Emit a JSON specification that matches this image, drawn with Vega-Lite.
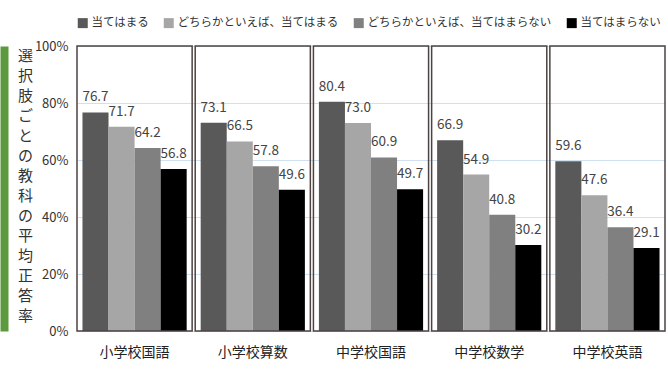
{
  "$schema": "https://vega.github.io/schema/vega-lite/v6.json",
  "autosize": {"type": "none"},
  "padding": {"left": 77, "top": 46, "right": 3, "bottom": 41},
  "width": 588,
  "height": 285,
  "background": "white",
  "config": {"font": "Noto Sans CJK JP", "view": {"stroke": null}},
  "data": {"values": [
    {"subject": "小学校国語", "choice": "当てはまる", "rate": 76.7},
    {"subject": "小学校国語", "choice": "どちらかといえば、当てはまる", "rate": 71.7},
    {"subject": "小学校国語", "choice": "どちらかといえば、当てはまらない", "rate": 64.2},
    {"subject": "小学校国語", "choice": "当てはまらない", "rate": 56.8},
    {"subject": "小学校算数", "choice": "当てはまる", "rate": 73.1},
    {"subject": "小学校算数", "choice": "どちらかといえば、当てはまる", "rate": 66.5},
    {"subject": "小学校算数", "choice": "どちらかといえば、当てはまらない", "rate": 57.8},
    {"subject": "小学校算数", "choice": "当てはまらない", "rate": 49.6},
    {"subject": "中学校国語", "choice": "当てはまる", "rate": 80.4},
    {"subject": "中学校国語", "choice": "どちらかといえば、当てはまる", "rate": 73.0},
    {"subject": "中学校国語", "choice": "どちらかといえば、当てはまらない", "rate": 60.9},
    {"subject": "中学校国語", "choice": "当てはまらない", "rate": 49.7},
    {"subject": "中学校数学", "choice": "当てはまる", "rate": 66.9},
    {"subject": "中学校数学", "choice": "どちらかといえば、当てはまる", "rate": 54.9},
    {"subject": "中学校数学", "choice": "どちらかといえば、当てはまらない", "rate": 40.8},
    {"subject": "中学校数学", "choice": "当てはまらない", "rate": 30.2},
    {"subject": "中学校英語", "choice": "当てはまる", "rate": 59.6},
    {"subject": "中学校英語", "choice": "どちらかといえば、当てはまる", "rate": 47.6},
    {"subject": "中学校英語", "choice": "どちらかといえば、当てはまらない", "rate": 36.4},
    {"subject": "中学校英語", "choice": "当てはまらない", "rate": 29.1}
  ]},
  "encoding": {
    "x": {
      "field": "subject", "type": "nominal",
      "sort": ["小学校国語", "小学校算数", "中学校国語", "中学校数学", "中学校英語"],
      "scale": {"paddingInner": 0.026, "paddingOuter": 0},
      "axis": {"title": null, "ticks": false, "domain": false, "labelAngle": 0, "labelFontSize": 14, "labelColor": "#222", "labelPadding": 14, "labelDx": -6}
    }
  },
  "layer": [
    {
      "mark": {"type": "bar"},
      "encoding": {
        "xOffset": {"field": "choice", "type": "nominal",
          "sort": ["当てはまる", "どちらかといえば、当てはまる", "どちらかといえば、当てはまらない", "当てはまらない"],
          "scale": {"paddingOuter": 0.21, "paddingInner": 0}},
        "y": {"field": "rate", "type": "quantitative", "scale": {"domain": [0, 100]},
          "axis": {"values": [0, 20, 40, 60, 80, 100], "labelExpr": "datum.value + '%'", "grid": true, "gridColor": "#cfe0f0", "ticks": false,
            "domain": true, "domainColor": "#5b9a3d", "domainWidth": 8, "offset": 73,
            "labelFontSize": 13, "labelColor": "#333", "labelPadding": -64, "labelAlign": "right",
            "title": ["選", "択", "肢", "ご", "と", "の", "教", "科", "の", "平", "均", "正", "答", "率"],
            "titleAngle": 0, "titleAlign": "center", "titleBaseline": "top", "titleX": 21, "titleY": 2,
            "titleFontSize": 15, "titleLineHeight": 20, "titleColor": "#333", "titleFontWeight": "normal"}},
        "color": {"field": "choice", "type": "nominal",
          "sort": ["当てはまる", "どちらかといえば、当てはまる", "どちらかといえば、当てはまらない", "当てはまらない"],
          "scale": {"range": ["#595959", "#a6a6a6", "#808080", "#000000"]},
          "legend": {"orient": "top", "title": null, "labelFontSize": 11.5, "labelColor": "#333", "labelLimit": 300, "symbolType": "square", "symbolSize": 100, "symbolStrokeWidth": 0, "columnPadding": 14, "labelOffset": 3, "offset": 17, "padding": 0}}
      }
    },
    {
      "mark": {"type": "text", "baseline": "bottom", "dy": -8, "fontSize": 13.5, "color": "#444"},
      "encoding": {
        "xOffset": {"field": "choice", "type": "nominal",
          "sort": ["当てはまる", "どちらかといえば、当てはまる", "どちらかといえば、当てはまらない", "当てはまらない"]},
        "y": {"field": "rate", "type": "quantitative"},
        "text": {"field": "rate", "type": "quantitative", "format": ".1f"}
      }
    },
    {
      "data": {"values": [
        {"subject": "小学校国語", "top": 100},
        {"subject": "小学校算数", "top": 100},
        {"subject": "中学校国語", "top": 100},
        {"subject": "中学校数学", "top": 100},
        {"subject": "中学校英語", "top": 100}
      ]},
      "mark": {"type": "rect", "filled": false, "stroke": "#4d4343", "strokeWidth": 1.5},
      "encoding": {
        "y": {"field": "top", "type": "quantitative"},
        "y2": {"datum": 0}
      }
    }
  ]
}
